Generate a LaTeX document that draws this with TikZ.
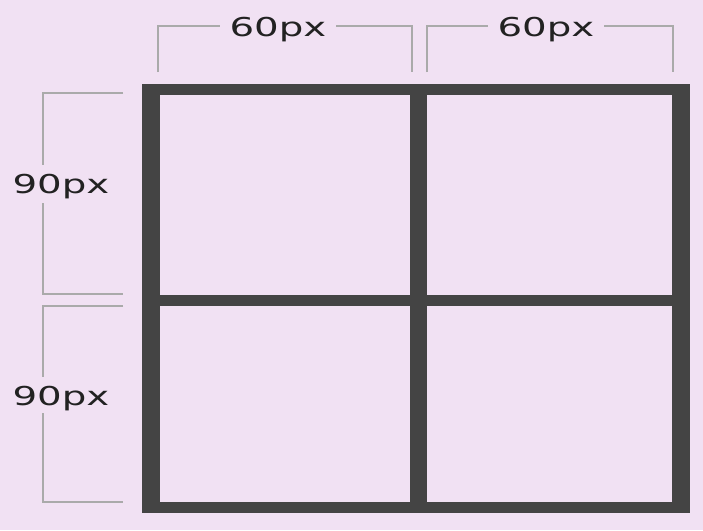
\documentclass[tikz,border=0pt]{standalone}
\usepackage{fontspec}
\newfontfamily\lblfont{DejaVu Sans}
\definecolor{bg}{HTML}{F1E1F3}
\definecolor{bar}{HTML}{444444}
\definecolor{brk}{HTML}{AAAAAA}
\definecolor{txt}{HTML}{222222}
\tikzset{
  barfill/.style={fill=bar, draw=none},
  bracket/.style={draw=brk, line width=2pt},
  dimlabel/.style={text=txt, inner sep=0pt, anchor=base, font=\lblfont\fontsize{26}{26}\selectfont}
}
\newcommand{\wide}[1]{\scalebox{1.49}[1]{#1}}
\begin{document}
\begin{tikzpicture}[x=1pt,y=-1pt]
\fill[bg] (0,0) rectangle (703,530);
\useasboundingbox (0,0) rectangle (703,530);
% grid bars
\fill[barfill] (142,84) rectangle (690,95);
\fill[barfill] (142,295) rectangle (690,306);
\fill[barfill] (142,502) rectangle (690,513);
\fill[barfill] (142,84) rectangle (160,513);
\fill[barfill] (410,84) rectangle (427,513);
\fill[barfill] (672,84) rectangle (690,513);
% top brackets
\node[dimlabel] (t1) at (278,36) {\wide{60px}};
\node[dimlabel] (t2) at (546,36) {\wide{60px}};
\draw[bracket] (158,72) -- (158,26) -- (220,26);
\draw[bracket] (336,26) -- (412,26) -- (412,72);
\draw[bracket] (427,72) -- (427,26) -- (488,26);
\draw[bracket] (604,26) -- (673,26) -- (673,72);
% left brackets
\node[dimlabel] (l1) at (61,193) {\wide{90px}};
\node[dimlabel] (l2) at (61,405) {\wide{90px}};
\draw[bracket] (123,93) -- (43,93) -- (43,165);
\draw[bracket] (43,203) -- (43,294) -- (123,294);
\draw[bracket] (123,306) -- (43,306) -- (43,377);
\draw[bracket] (43,413) -- (43,502) -- (123,502);
\end{tikzpicture}
\end{document}
